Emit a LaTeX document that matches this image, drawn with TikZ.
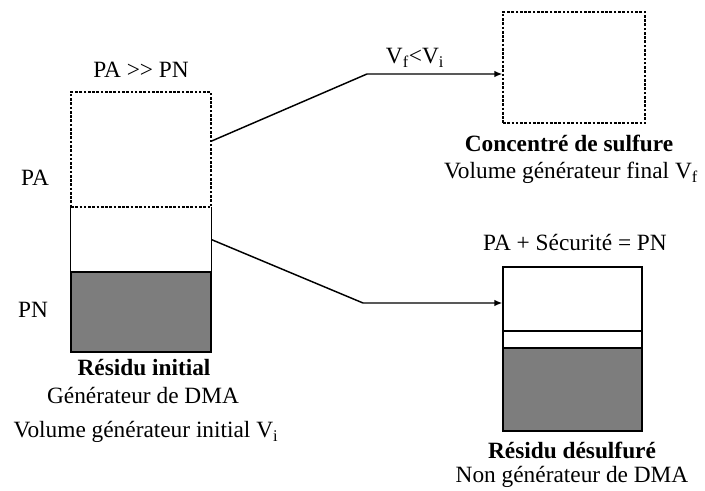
\documentclass[tikz,border=0pt]{standalone}
\usepackage{fontspec}
\setmainfont{Liberation Serif}
\usetikzlibrary{arrows.meta}
\definecolor{pngray}{RGB}{125,125,125}
\tikzset{
  txt/.style={font=\fontsize{17.5}{19}\selectfont, inner sep=0pt, anchor=center},
  bold/.style={txt, font=\fontsize{17.5}{19}\selectfont\bfseries},
  blk/.style={draw=black, line width=1pt, inner sep=0pt, minimum width=#1},
  dsh/.style={dash pattern=on 2pt off 1.2pt},
  conn/.style={line width=1.1pt, -{Latex[length=6pt,width=5pt]}},
}
\begin{document}
\begin{tikzpicture}[x=0.75pt,y=-0.75pt]
\useasboundingbox (0,0) rectangle (705,491);
% left box
\node[inner sep=0pt, minimum width=140*0.75pt, minimum height=65*0.75pt] (leftW) at (141,239.5) {};
\node[blk=140*0.75pt, fill=pngray, minimum height=80*0.75pt] (leftN) at (141,312) {};
\draw[line width=1pt] (leftW.north west) -- (leftW.south west) (leftW.north east) -- (leftW.south east);
\node[blk=140*0.75pt, dsh, minimum height=115*0.75pt] (leftA) at (141,149.5) {};
% top right box
\node[blk=142*0.75pt, dsh, minimum height=111*0.75pt] (conc) at (574,67.5) {};
% bottom right box
\node[blk=139*0.75pt, minimum height=64*0.75pt] (rA) at (572.5,299) {};
\node[blk=139*0.75pt, minimum height=17*0.75pt] (rW) at (572.5,339.5) {};
\node[blk=139*0.75pt, fill=pngray, minimum height=83*0.75pt] (rN) at (572.5,389.5) {};
% elbows
\coordinate (e1) at (367,74);
\coordinate (e2) at (363,303);
\draw[conn] ([yshift=8.5*0.75pt]leftA.east) -- (e1) -- (e1 -| conc.west);
\draw[conn] (leftW.east) -- (e2) -- (e2 -| rA.west);
% labels
\node[txt] (lpapn) at (141,70) {PA >\kern0pt> PN};
\node[txt] (lpa) at (35,178) {PA};
\node[txt] (lpn) at (33,310) {PN};
\node[bold] (c1) at (144,368) {Résidu initial};
\node[txt] (c2) at (143,395) {Générateur de DMA};
\node[txt] (c3) at (146,432) {Volume générateur initial V\textsubscript{i}};
\node[txt] (lv) at (415,58) {V\textsubscript{f}<V\textsubscript{i}};
\node[bold] (c4) at (569,143) {Concentré de sulfure};
\node[txt] (c5) at (571,173) {Volume générateur final V\textsubscript{f}};
\node[txt] (c6) at (575,243) {PA + Sécurité = PN};
\node[bold] (c7) at (572,450) {Résidu désulfuré};
\node[txt] (c8) at (572,477) {Non générateur de DMA};
\end{tikzpicture}
\end{document}
